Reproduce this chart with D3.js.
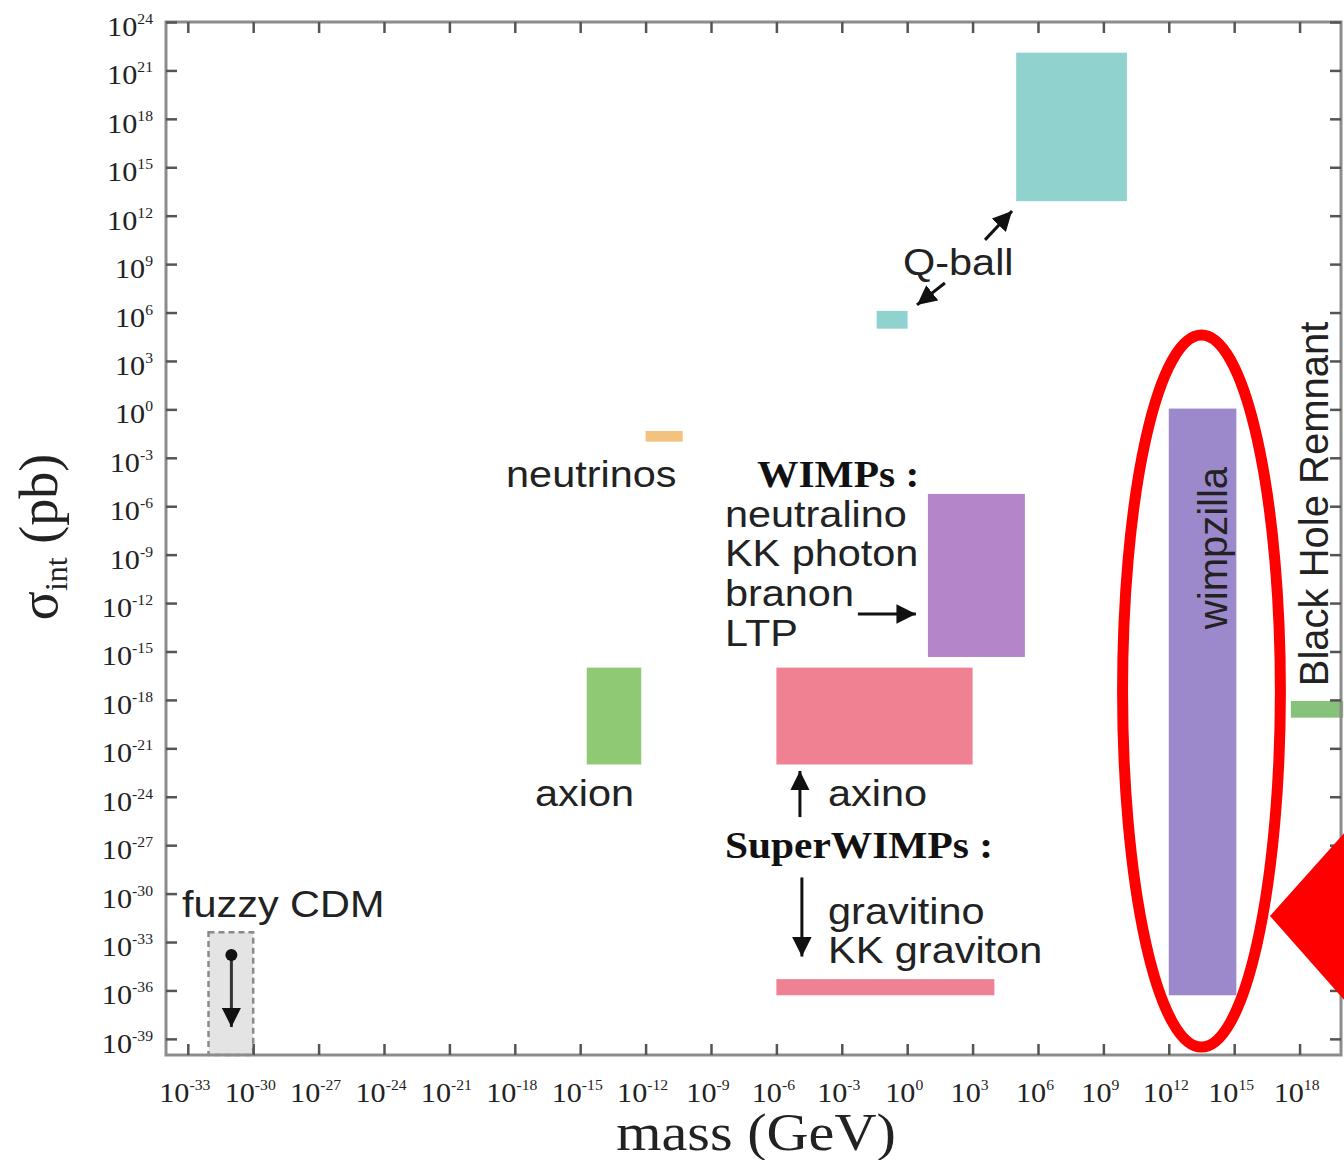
<!DOCTYPE html>
<html><head><meta charset="utf-8">
<script src="https://cdn.jsdelivr.net/npm/d3@7"></script>
<style>html,body{margin:0;padding:0;background:#fff;} svg{display:block}</style>
</head><body><svg id="c" width="1344" height="1160"></svg>
<script>
// ---------- data (log10 of mass in GeV / cross-section in pb) ----------
const regions      = ["Q-ball", "Q-ball (light)", "neutrinos", "WIMPs", "axion", "axino", "gravitino", "wimpzilla", "Black Hole Remnant", "fuzzy CDM"];
const logMassMin   = [5.0, -1.4, -12.0, 0.95, -14.7, -6.0, -6.0, 12.0, 17.6, -32.05];
const logMassMax   = [10.08, 0.02, -10.3, 5.4, -12.2, 3.0, 4.0, 15.1, 20.0, -30.0];
const logSigmaMin  = [12.9, 5.0, -2.0, -15.34, -22.0, -22.0, -36.3, -36.3, -19.1, -40.0];
const logSigmaMax  = [22.1, 6.1, -1.34, -5.24, -16.0, -16.0, -35.3, 0.05, -18.07, -32.4];
const regionColors = ["#8fd2ce", "#8fd2ce", "#f3c27e", "#b485c8", "#8fc974", "#ef8192", "#ef8192", "#9c89cc", "#85c27a", "#e4e4e4"];

const xTickExps = [-33, -30, -27, -24, -21, -18, -15, -12, -9, -6, -3, 0, 3, 6, 9, 12, 15, 18];
const yTickExps = [-39, -36, -33, -30, -27, -24, -21, -18, -15, -12, -9, -6, -3, 0, 3, 6, 9, 12, 15, 18, 21, 24];

const labelTexts = ["Q-ball", "neutrinos", "neutralino", "KK photon", "branon", "LTP", "axion", "axino", "gravitino", "KK graviton", "fuzzy CDM"];
const labelLogX  = [-0.19, -18.4, -8.36, -8.36, -8.36, -8.36, -17.07, -3.63, -3.63, -3.63, -33.27];
const labelLogY  = [8.32, -4.81, -7.29, -9.71, -12.19, -14.66, -24.57, -24.57, -31.89, -34.3, -31.45];

const boldTexts = ["WIMPs :", "SuperWIMPs :"];
const boldLogX  = [-6.89, -8.36];
const boldLogY  = [-4.81, -27.8];

const vertTexts = ["wimpzilla", "Black Hole Remnant"];
const vertLogX  = [14.67, 19.3];
const vertLogY  = [-8.59, -5.86];

// arrows: from (x1,y1) to tip (x2,y2)
const arrowX1 = [3.57, 1.73, -2.26, -4.92, -4.83, -31.0];
const arrowY1 = [10.5, 7.83, -12.68, -25.26, -29.0, -33.8];
const arrowX2 = [4.81, 0.45, 0.4, -4.92, -4.83, -31.0];
const arrowY2 = [12.29, 6.47, -12.68, -22.4, -33.9, -38.27];

// highlight annotation (red ellipse around wimpzilla, red pointer)
const ellipseLogX = [9.88, 17.12];
const ellipseLogY = [-39.51, 4.61];
const pointerLogX = [16.64, 20.05, 20.05];
const pointerLogY = [-31.39, -26.25, -36.6];

// ---------- chart ----------
const svg = d3.select("#c");
const p = v => Math.pow(10, v);
const x = d3.scaleLog().domain([p(-34), p(19.9)]).range([166, 1341]);
const y = d3.scaleLog().domain([p(-40), p(24)]).range([1055, 22]);

const SANS = "'Liberation Sans', Arial, Helvetica, sans-serif";
const SERIF = "'Liberation Serif', 'Times New Roman', Times, serif";
const SX = 1.12;

// regions
const idx = d3.range(regions.length);
svg.append("g").selectAll("rect").data(idx).join("rect")
  .attr("x", i => x(p(logMassMin[i])))
  .attr("y", i => y(p(logSigmaMax[i])))
  .attr("width", i => x(p(logMassMax[i])) - x(p(logMassMin[i])))
  .attr("height", i => y(p(logSigmaMin[i])) - y(p(logSigmaMax[i])))
  .attr("fill", i => regionColors[i])
  .attr("stroke", i => regions[i] === "fuzzy CDM" ? "#8a8a8a" : "none")
  .attr("stroke-width", 2.5)
  .attr("stroke-dasharray", i => regions[i] === "fuzzy CDM" ? "6,4" : null);

// frame
const [x0, x1] = x.range(), [y1, y0] = y.range();
svg.append("rect").attr("x", x0).attr("y", y0).attr("width", x1 - x0).attr("height", y1 - y0)
  .attr("fill", "none").attr("stroke", "#8c8c8c").attr("stroke-width", 3);

// axes (ticks only, inward)
const xt = xTickExps.map(p), yt = yTickExps.map(p);
function styleAxis(g) {
  g.select(".domain").remove();
  g.selectAll(".tick line").attr("stroke", "#555").attr("stroke-width", 2.5);
  g.selectAll(".tick text").remove();
}
svg.append("g").attr("transform", `translate(0,${y1})`)
  .call(d3.axisBottom(x).tickValues(xt).tickSize(-11).tickFormat(""))
  .call(styleAxis);
svg.append("g").attr("transform", `translate(0,${y0})`)
  .call(d3.axisTop(x).tickValues(xt).tickSize(-11).tickFormat(""))
  .call(styleAxis);
svg.append("g").attr("transform", `translate(${x0},0)`)
  .call(d3.axisLeft(y).tickValues(yt).tickSize(-11).tickFormat(""))
  .call(styleAxis);
svg.append("g").attr("transform", `translate(${x1},0)`)
  .call(d3.axisRight(y).tickValues(yt).tickSize(-11).tickFormat(""))
  .call(styleAxis);

// tick labels (10^n)
function powLabel(g, e) {
  const t = g.append("text").attr("font-family", SERIF).attr("fill", "#222");
  t.append("tspan").attr("font-size", 27).text("10");
  t.append("tspan").attr("font-size", 14).attr("dy", -12).text(e);
  return t;
}
xTickExps.forEach(e => {
  const g = svg.append("g").attr("transform", `translate(${x(p(e)) - 3},1102) scale(${SX},1)`);
  powLabel(g, e).attr("text-anchor", "middle");
});
yTickExps.forEach(e => {
  const g = svg.append("g").attr("transform", `translate(153,${y(p(e)) + 14}) scale(${SX},1)`);
  powLabel(g, e).attr("text-anchor", "end");
});

// axis titles
svg.append("g").attr("transform", `translate(756,1150) scale(${SX},1)`)
  .append("text").attr("text-anchor", "middle").attr("font-family", SERIF)
  .attr("font-size", 52).attr("fill", "#222").text("mass (GeV)");
const yt1 = svg.append("text").attr("transform", "translate(57,537) rotate(-90)")
  .attr("text-anchor", "middle").attr("font-family", SERIF).attr("font-size", 54).attr("fill", "#222");
yt1.append("tspan").text("σ");
yt1.append("tspan").attr("font-size", 32).attr("dy", 10).text("int");
yt1.append("tspan").attr("dy", -10).text(" (pb)");

// arrow marker
svg.append("defs").append("marker").attr("id", "ah")
  .attr("viewBox", "0 0 10 10").attr("refX", 10).attr("refY", 5)
  .attr("markerWidth", 6.5).attr("markerHeight", 6.5).attr("markerUnits", "strokeWidth")
  .attr("orient", "auto")
  .append("path").attr("d", "M0,0 L10,5 L0,10 Z").attr("fill", "#111");

svg.append("g").selectAll("line").data(d3.range(arrowX1.length)).join("line")
  .attr("x1", i => x(p(arrowX1[i]))).attr("y1", i => y(p(arrowY1[i])))
  .attr("x2", i => x(p(arrowX2[i]))).attr("y2", i => y(p(arrowY2[i])))
  .attr("stroke", i => i === 5 ? "#333" : "#111").attr("stroke-width", 3)
  .attr("marker-end", "url(#ah)");
// dot at start of the fuzzy CDM arrow
svg.append("circle").attr("cx", x(p(arrowX1[5]))).attr("cy", y(p(arrowY1[5])))
  .attr("r", 6).attr("fill", "#111");

// labels
labelTexts.forEach((t, i) => {
  svg.append("g").attr("transform", `translate(${x(p(labelLogX[i]))},${y(p(labelLogY[i]))}) scale(${SX},1)`)
    .append("text").attr("font-family", SANS).attr("font-size", 37).attr("fill", "#222").text(t);
});
boldTexts.forEach((t, i) => {
  svg.append("g").attr("transform", `translate(${x(p(boldLogX[i]))},${y(p(boldLogY[i]))}) scale(${SX},1)`)
    .append("text").attr("font-family", SERIF).attr("font-weight", "bold")
    .attr("font-size", 37).attr("fill", "#111").text(t);
});
vertTexts.forEach((t, i) => {
  svg.append("text")
    .attr("transform", `translate(${x(p(vertLogX[i]))},${y(p(vertLogY[i]))}) rotate(-90)`)
    .attr("text-anchor", "middle").attr("font-family", SANS).attr("font-size", 40)
    .attr("fill", "#222").text(t);
});

// red highlight
const ex0 = x(p(ellipseLogX[0])), ex1 = x(p(ellipseLogX[1]));
const ey0 = y(p(ellipseLogY[1])), ey1 = y(p(ellipseLogY[0]));
svg.append("ellipse").attr("cx", (ex0 + ex1) / 2).attr("cy", (ey0 + ey1) / 2)
  .attr("rx", (ex1 - ex0) / 2).attr("ry", (ey1 - ey0) / 2)
  .attr("fill", "none").attr("stroke", "#ff0000").attr("stroke-width", 11);
svg.append("polygon")
  .attr("points", pointerLogX.map((v, i) => `${x(p(v))},${y(p(pointerLogY[i]))}`).join(" "))
  .attr("fill", "#ff0000");
</script></body></html>
